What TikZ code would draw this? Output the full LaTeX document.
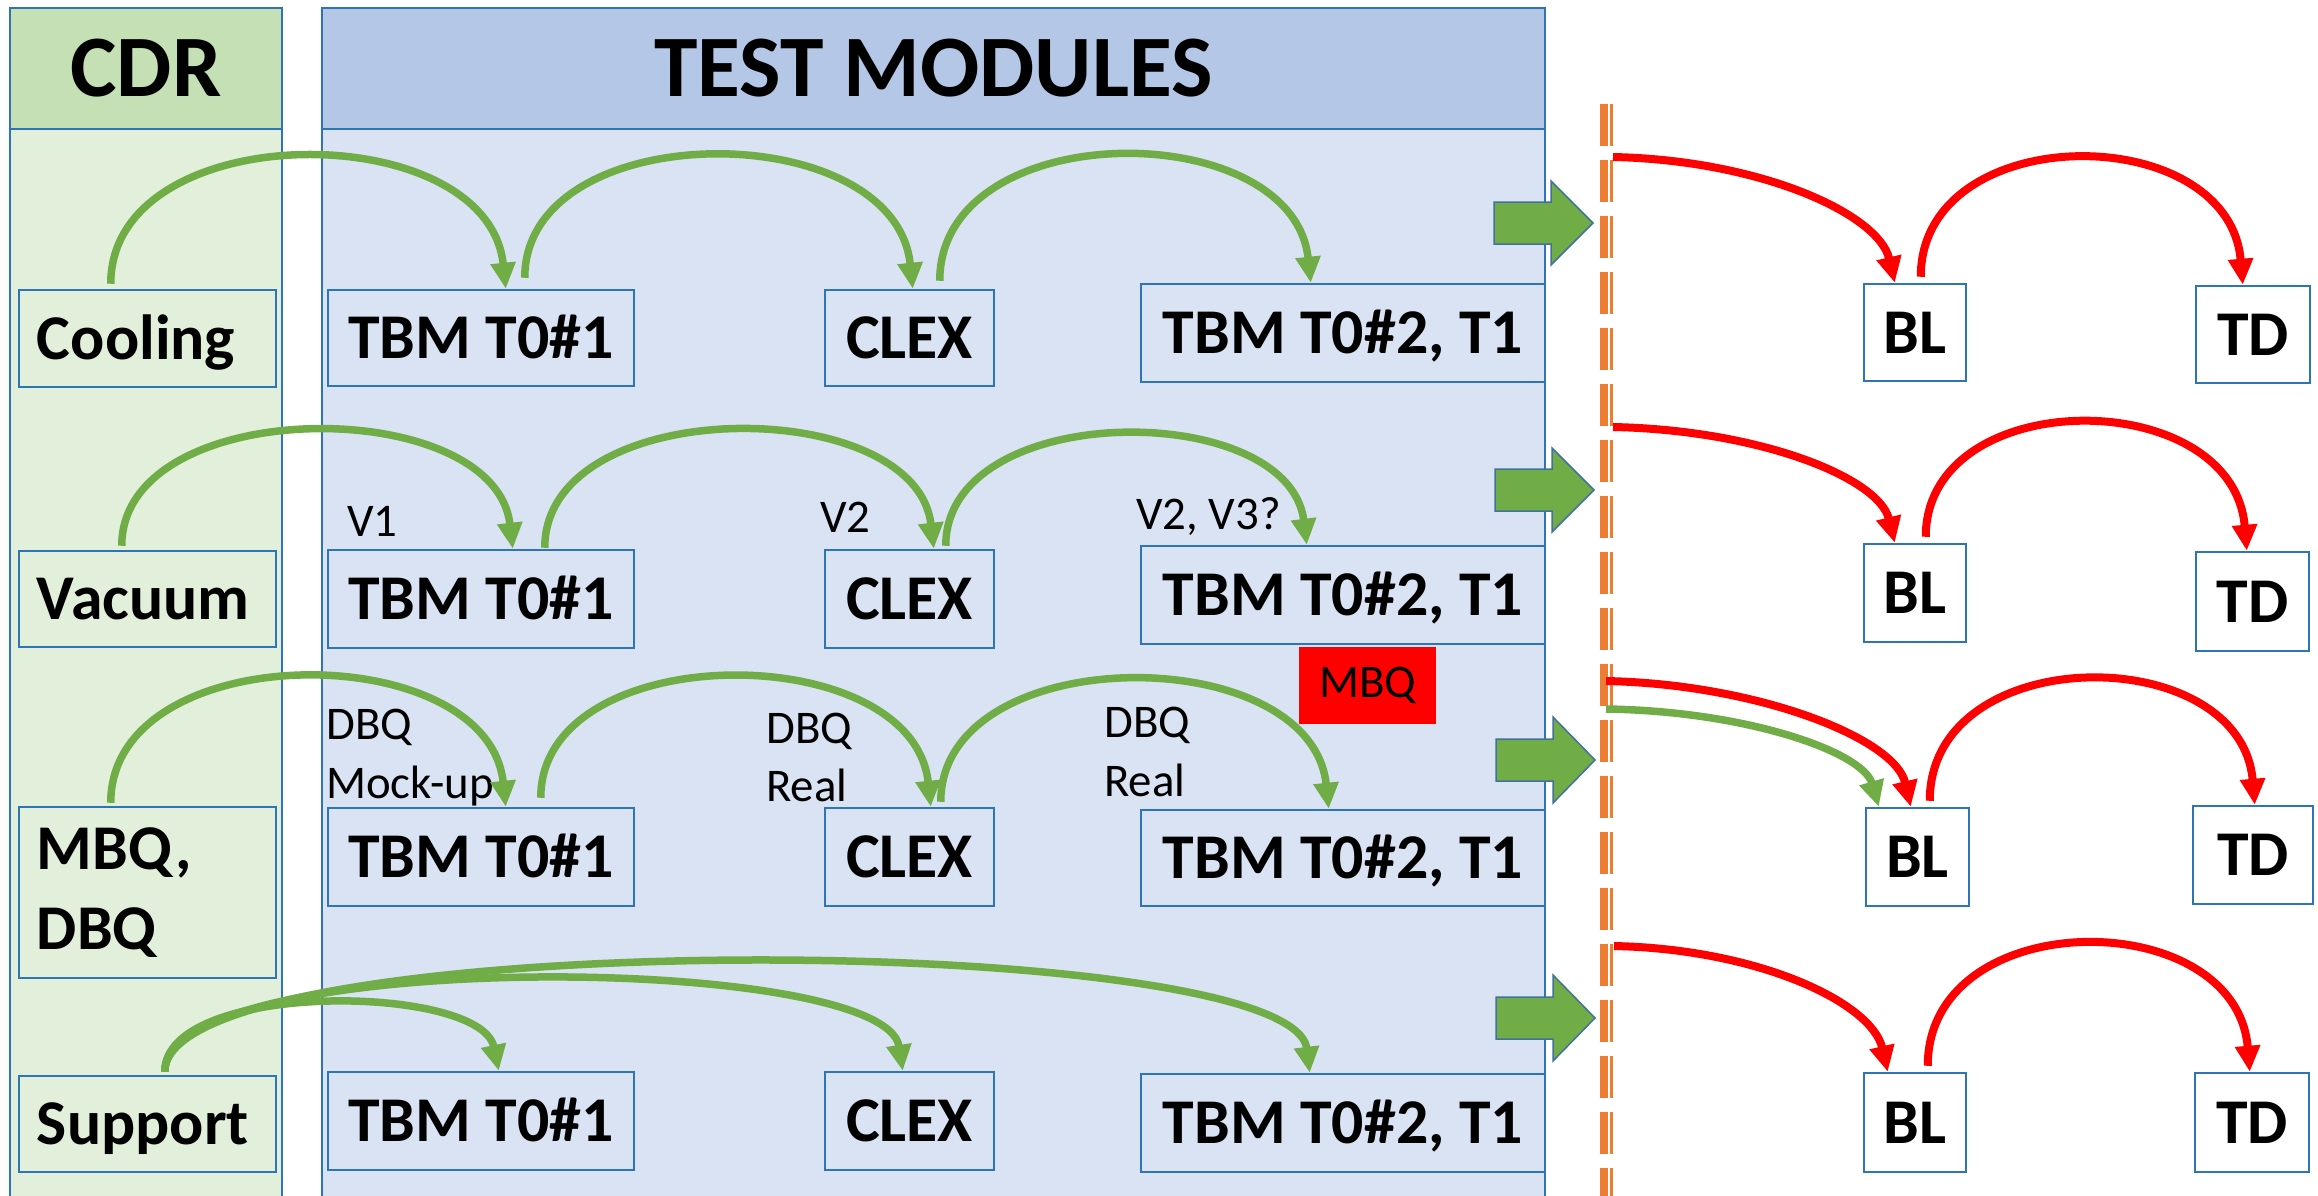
\documentclass[tikz,border=0pt]{standalone}
\usepackage{fontspec}
\setmainfont{Carlito}
\usetikzlibrary{arrows.meta,calc}
\definecolor{grn}{HTML}{70AD47}
\definecolor{bdr}{HTML}{2E75B6}
\definecolor{cdrH}{HTML}{C5E0B4}
\definecolor{cdrB}{HTML}{E2EFDA}
\definecolor{tmH}{HTML}{B4C7E7}
\definecolor{tmB}{HTML}{DAE3F3}
\definecolor{org}{HTML}{ED7D31}
\definecolor{arrbdr}{HTML}{41719C}
\newcommand\BX[7]{%
 \pgfmathsetmacro\bw{#5-#3}\pgfmathsetmacro\bh{#6-#4}%
 \pgfmathsetmacro\bcx{(#3+#5)/2}\pgfmathsetmacro\bcy{(#4+#6)/2}%
 \node[#1, minimum width=\bw bp, minimum height=\bh bp] (#2) at (\bcx,\bcy) {#7};}
\begin{document}
\begin{tikzpicture}[x=1bp,y=-1bp,
  bxbase/.style={draw=bdr, line width=2.5bp, inner sep=0pt, font=\fontsize{64}{80}\selectfont\bfseries},
  caps/.style={text height=41bp, text depth=0bp},
  tbox/.style={bxbase, caps, fill=tmB},
  wbox/.style={bxbase, caps, fill=white},
  rowbox/.style={bxbase, fill=cdrB, align=left, text width=221bp, inner xsep=18bp},
  hdr/.style={draw=bdr, line width=2.5bp, inner sep=0pt, font=\fontsize{88}{100}\selectfont\bfseries, text height=56bp, text depth=0bp},
  lbl/.style={inner sep=0pt, anchor=base west, font=\fontsize{47}{56}\selectfont},
  garr/.style={draw=grn, line width=7.5bp, -{Triangle[length=26bp,width=24bp]}},
  rarr/.style={draw=red, line width=8bp, -{Triangle[length=26bp,width=24bp]}},
  barr/.style={fill=grn, draw=arrbdr, line width=1.5bp},
  dashA/.style={draw=org, line width=8bp, dash pattern=on 42bp off 14bp},
  dashB/.style={draw=org, line width=3.5bp, dash pattern=on 42bp off 14bp}
]
\useasboundingbox (0,0) rectangle (2318,1195);
% columns
\fill[white] (0,0) rectangle (2318,1195);
\draw[draw=bdr, line width=2.5bp, fill=cdrB] (10,129) rectangle (282,1205);
\draw[draw=bdr, line width=2.5bp, fill=tmB] (322,129) rectangle (1545,1205);
\node[hdr, fill=cdrH, minimum width=272bp, minimum height=121bp] (cdr) at (146,68.5) {CDR};
\node[hdr, fill=tmH, minimum width=1223bp, minimum height=121bp] (tm) at (933.5,68.5) {TEST MODULES};

% row 1
\BX{rowbox,caps}{cool}{19}{290}{276}{387}{Cooling}
\BX{tbox}{t1a}{328}{290}{634}{386}{TBM T0\#1}
\BX{tbox}{cx1}{825}{290}{994}{386}{CLEX}
\BX{tbox}{t2a}{1141}{284}{1545}{382}{TBM T0\#2, T1}
\BX{wbox}{bl1}{1864}{284}{1966}{381}{BL}
\BX{wbox}{td1}{2196}{286}{2310}{383}{TD}
% row 2
\BX{rowbox,caps}{vac}{19}{551}{276}{647}{Vacuum}
\BX{tbox}{t1b}{328}{550}{634}{648}{TBM T0\#1}
\BX{tbox}{cx2}{825}{550}{994}{648}{CLEX}
\BX{tbox}{t2b}{1141}{546}{1545}{644}{TBM T0\#2, T1}
\BX{wbox}{bl2}{1864}{544}{1966}{642}{BL}
\BX{wbox}{td2}{2196}{552}{2309}{651}{TD}
% row 3
\BX{rowbox}{mbq}{19}{807}{276}{978}{MBQ,\\DBQ}
\BX{tbox}{t1c}{328}{808}{634}{906}{TBM T0\#1}
\BX{tbox}{cx3}{825}{808}{994}{906}{CLEX}
\BX{tbox}{t2c}{1141}{810}{1545}{906}{TBM T0\#2, T1}
\BX{wbox}{bl3}{1866}{808}{1969}{906}{BL}
\BX{wbox}{td3}{2193}{806}{2313}{904}{TD}
% row 4
\BX{rowbox,caps}{sup}{19}{1076}{276}{1172}{Support}
\BX{tbox}{t1d}{328}{1072}{634}{1170}{TBM T0\#1}
\BX{tbox}{cx4}{825}{1072}{994}{1170}{CLEX}
\BX{tbox}{t2d}{1141}{1074}{1545}{1172}{TBM T0\#2, T1}
\BX{wbox}{bl4}{1864}{1073}{1966}{1172}{BL}
\BX{wbox}{td4}{2195}{1073}{2309}{1172}{TD}

% MBQ tag
\node[fill=red, inner sep=0pt, minimum width=137bp, minimum height=77bp, font=\fontsize{47}{56}\selectfont] (mbqtag) at (1367.5,685.5) {MBQ};

% labels
\node[lbl] (v1) at (347,536) {V1};
\node[lbl] (v2) at (820,532) {V2};
\node[lbl] (v23) at (1136,529) {V2, V3?};
\node[lbl] (d1a) at (326,739) {DBQ};
\node[lbl] (d1b) at (326,798) {Mock-up};
\node[lbl] (d2a) at (766,743) {DBQ};
\node[lbl] (d2b) at (766,801) {Real};
\node[lbl] (d3a) at (1104,737) {DBQ};
\node[lbl] (d3b) at (1104,796) {Real};

% green arcs row 1
\draw[garr] ($(cool.north west)+(93,-5)$) .. controls +(0,-169) and +(-18,-174) .. ($(t1a.north west)+(179,0)$);
\draw[garr] ($(t1a.north west)+(198,-11)$) .. controls +(0,-163) and +(-18,-174) .. ($(cx1.north west)+(89,0)$);
\draw[garr] ($(cx1.north west)+(116,-8)$) .. controls +(0,-166) and +(-18,-168) .. ($(t2a.north west)+(171,0)$);
% row 2
\draw[garr] ($(vac.north west)+(104,-4)$) .. controls +(0,-152) and +(-18,-156) .. ($(t1b.north west)+(186,0)$);
\draw[garr] ($(t1b.north west)+(218,-1)$) .. controls +(0,-155) and +(-18,-156) .. ($(cx2.north west)+(110,0)$);
\draw[garr] ($(cx2.north west)+(122,-3)$) .. controls +(0,-147) and +(-18,-146) .. ($(t2b.north west)+(167,0)$);
% row 3
\draw[garr] ($(mbq.north west)+(93,-3)$) .. controls +(0,-167) and +(-18,-171) .. ($(t1c.north west)+(179,0)$);
\draw[garr] ($(t1c.north west)+(214,-9)$) .. controls +(0,-161) and +(-18,-170) .. ($(cx3.north west)+(107,0)$);
\draw[garr] ($(cx3.north west)+(117,-5)$) .. controls +(0,-162) and +(-18,-170) .. ($(t2c.north west)+(189,0)$);
% row 4
\draw[garr] ($(sup.north west)+(147,-3)$) .. controls +(0,-92) and +(-18,-87) .. ($(t1d.north west)+(172,0)$);
\draw[garr] ($(sup.north west)+(147,-3)$) .. controls +(0,-124) and +(-18,-119) .. ($(cx4.north west)+(79,0)$);
\draw[garr] ($(sup.north west)+(147,-3)$) .. controls +(0,-147) and +(-18,-144) .. ($(t2d.north west)+(170,0)$);

% block arrows
\draw[barr] (1494,202) -- (1551,202) -- (1551,181) -- (1593,223) -- (1551,265) -- (1551,244) -- (1494,244) -- cycle;
\draw[barr] (1495,469) -- (1552,469) -- (1552,448) -- (1594,490) -- (1552,532) -- (1552,511) -- (1495,511) -- cycle;
\draw[barr] (1496,739) -- (1553,739) -- (1553,717) -- (1595,760) -- (1553,803) -- (1553,781) -- (1496,781) -- cycle;
\draw[barr] (1496,997) -- (1553,997) -- (1553,975) -- (1595,1018) -- (1553,1061) -- (1553,1039) -- (1496,1039) -- cycle;

% dashed separator
\draw[dashA] (1604,104) -- (1604,1200);
\draw[dashB] (1611.5,104) -- (1611.5,1200);

% red arrows
\coordinate (rs1) at (1613,157);
\coordinate (rs2) at (1613,427);
\coordinate (rs3) at (1606,681);
\coordinate (gs3) at (1606,709);
\coordinate (rs4) at (1614,946);
\draw[rarr] (rs1) .. controls +(147,3) and +(-16,-69) .. ($(bl1.north west)+(32,0)$);
\draw[rarr] (rs2) .. controls +(147,3) and +(-16,-65) .. ($(bl2.north west)+(32,0)$);
\draw[rarr] (rs3) .. controls +(150,3) and +(-16,-69) .. ($(bl3.north west)+(46,0)$);
\draw[garr] (gs3) .. controls +(140,2) and +(-16,-55) .. ($(bl3.north west)+(14,0)$);
\draw[rarr] (rs4) .. controls +(145,3) and +(-16,-69) .. ($(bl4.north west)+(25,0)$);

\draw[rarr] ($(bl1.north west)+(58,-6)$) .. controls +(0,-158) and +(-14,-166) .. ($(td1.north west)+(48,0)$);
\draw[rarr] ($(bl2.north west)+(63,-6)$) .. controls +(0,-153) and +(-14,-167) .. ($(td2.north west)+(52,0)$);
\draw[rarr] ($(bl3.north west)+(65,-6)$) .. controls +(0,-161) and +(-14,-165) .. ($(td3.north west)+(63,0)$);
\draw[rarr] ($(bl4.north west)+(65,-6)$) .. controls +(0,-162) and +(-14,-168) .. ($(td4.north west)+(56,0)$);
\end{tikzpicture}
\end{document}
